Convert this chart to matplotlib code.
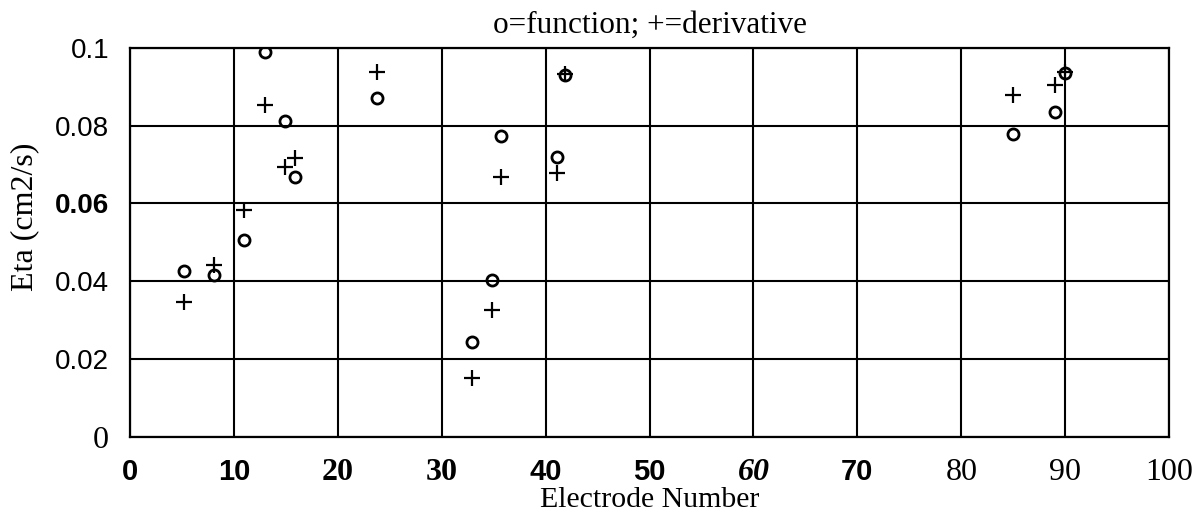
"""Eta vs electrode number, function (o) and derivative (+) estimates."""
import matplotlib

matplotlib.use("Agg")
import matplotlib.pyplot as plt

# function estimates (o)
func_x = [5.2, 8.1, 11.0, 13.0, 14.9, 15.9, 23.8, 32.9, 34.8, 35.7, 41.1, 41.9, 85.0, 89.0, 90.0]
func_y = [0.0427, 0.0415, 0.0507, 0.0990, 0.0812, 0.0668, 0.0870, 0.0243, 0.0404, 0.0774,
          0.0720, 0.0930, 0.0778, 0.0835, 0.0935]

# derivative estimates (+)
deriv_x = [5.2, 8.1, 11.0, 13.0, 14.9, 15.9, 23.8, 32.9, 34.8, 35.7, 41.1, 41.9, 85.0, 89.0, 90.0]
deriv_y = [0.0346, 0.0441, 0.0584, 0.0854, 0.0694, 0.0718, 0.0938, 0.0152, 0.0325, 0.0667,
           0.0679, 0.0932, 0.0878, 0.0905, 0.0938]

x_ticks = [0, 10, 20, 30, 40, 50, 60, 70, 80, 90, 100]
y_ticks = [0, 0.02, 0.04, 0.06, 0.08, 0.1]
y_tick_labels = ["0", "0.02", "0.04", "0.06", "0.08", "0.1"]

SANS = "Liberation Sans"
SERIF = "Liberation Serif"

# the scanned original mixes typefaces on the tick labels
x_tick_style = [
    (SANS, "bold", "normal"), (SANS, "bold", "normal"), (SERIF, "bold", "normal"),
    (SERIF, "bold", "normal"), (SANS, "bold", "normal"), (SANS, "bold", "normal"),
    (SERIF, "bold", "italic"), (SANS, "bold", "normal"), (SERIF, "normal", "normal"),
    (SERIF, "normal", "normal"), (SERIF, "normal", "normal"),
]
y_tick_style = [
    (SERIF, "normal", "normal"), (SANS, "normal", "normal"), (SANS, "normal", "normal"),
    (SANS, "bold", "normal"), (SANS, "normal", "normal"), (SANS, "normal", "normal"),
]

fig = plt.figure(figsize=(11.93, 5.19), dpi=100)
ax = fig.add_axes([0.109, 0.158, 0.871, 0.75])

ax.plot(func_x, func_y, linestyle="none", marker="o", markersize=8, mfc="none",
        mec="black", mew=2.0)
ax.plot(deriv_x, deriv_y, linestyle="none", marker="+", markersize=12,
        color="black", mew=1.6)

ax.set_xlim(0, 100)
ax.set_ylim(0, 0.1)
ax.set_xticks(x_ticks)
ax.set_yticks(y_ticks)
ax.set_xticklabels([str(v) for v in x_ticks])
ax.set_yticklabels(y_tick_labels)
ax.tick_params(length=0)
ax.tick_params(axis="x", pad=15)
ax.tick_params(axis="y", pad=15)

for lab, (fam, wt, st) in zip(ax.get_xticklabels(), x_tick_style):
    lab.set_fontfamily(fam)
    lab.set_fontweight(wt)
    lab.set_fontstyle(st)
    lab.set_fontsize(21 if fam == SANS else 23)
for lab, (fam, wt, st) in zip(ax.get_yticklabels(), y_tick_style):
    lab.set_fontfamily(fam)
    lab.set_fontweight(wt)
    lab.set_fontstyle(st)
    lab.set_fontsize(20 if fam == SANS else 23)

ax.grid(True, color="black", linewidth=1.5)
ax.set_axisbelow(True)
for sp in ax.spines.values():
    sp.set_linewidth(1.6)

ax.set_title("o=function; +=derivative", family=SERIF, fontsize=22.5, pad=11)
ax.set_xlabel("Electrode Number", family=SERIF, fontsize=21.5, labelpad=0)
ax.set_ylabel("Eta (cm2/s)", family=SERIF, fontsize=23)
ax.yaxis.set_label_coords(-0.087, 0.566)

fig.savefig("out.png", dpi=100)
